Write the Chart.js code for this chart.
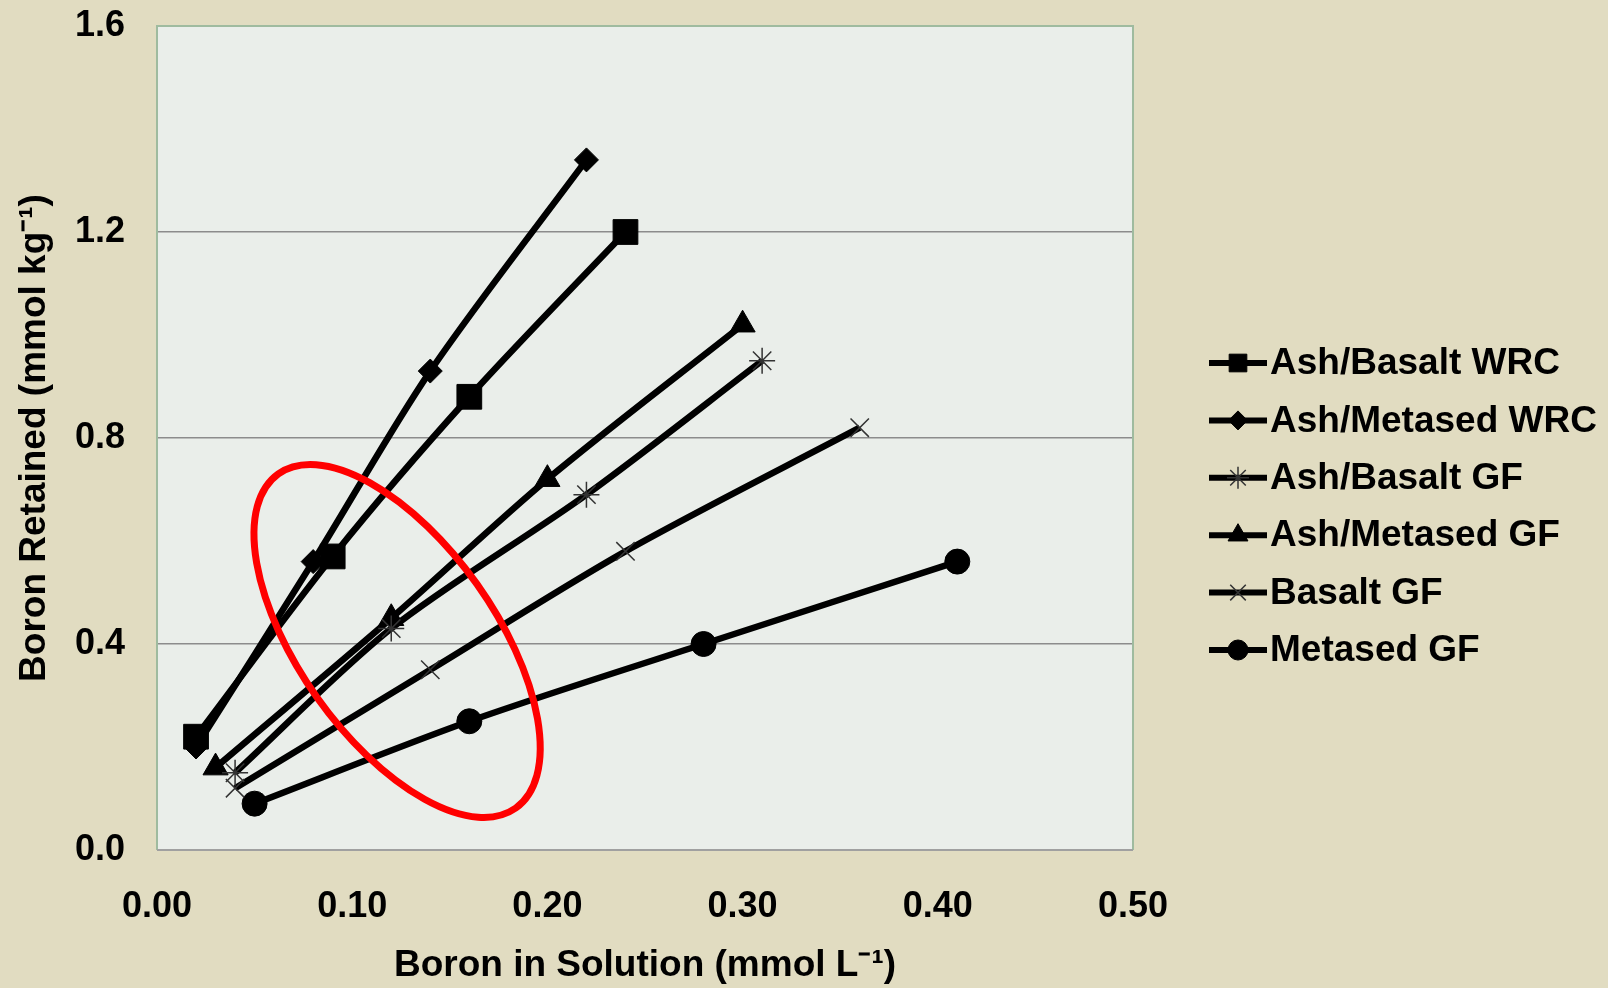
<!DOCTYPE html>
<html>
<head>
<meta charset="utf-8">
<title>Boron retained vs boron in solution</title>
<script src="https://cdn.jsdelivr.net/npm/chart.js@4.4.1/dist/chart.umd.min.js"></script>
<style>
  html, body { margin: 0; padding: 0; background: #e1dcc1; }
  #chart { display: block; }
</style>
</head>
<body>
<canvas id="chart" width="1608" height="988"></canvas>
<script>
/* values */
const seriesNames = ['Ash/Basalt WRC', 'Ash/Metased WRC', 'Ash/Basalt GF', 'Ash/Metased GF', 'Basalt GF', 'Metased GF'];

const ashBasaltWrcX = [0.02, 0.09, 0.16, 0.24];
const ashBasaltWrcY = [0.22, 0.57, 0.88, 1.20];
const ashMetasedWrcX = [0.02, 0.08, 0.14, 0.22];
const ashMetasedWrcY = [0.20, 0.56, 0.93, 1.34];
const ashBasaltGfX = [0.04, 0.12, 0.22, 0.31];
const ashBasaltGfY = [0.15, 0.43, 0.69, 0.95];
const ashMetasedGfX = [0.03, 0.12, 0.20, 0.30];
const ashMetasedGfY = [0.16, 0.45, 0.72, 1.02];
const basaltGfX = [0.04, 0.14, 0.24, 0.36];
const basaltGfY = [0.12, 0.35, 0.58, 0.82];
const metasedGfX = [0.05, 0.16, 0.28, 0.41];
const metasedGfY = [0.09, 0.25, 0.40, 0.56];

const xTickValues = [0, 0.1, 0.2, 0.3, 0.4, 0.5];
const xTickLabels = ['0.00', '0.10', '0.20', '0.30', '0.40', '0.50'];
const yTickValues = [0, 0.4, 0.8, 1.2, 1.6];
const yTickLabels = ['0.0', '0.4', '0.8', '1.2', '1.6'];

const seriesX = [ashBasaltWrcX, ashMetasedWrcX, ashBasaltGfX, ashMetasedGfX, basaltGfX, metasedGfX];
const seriesY = [ashBasaltWrcY, ashMetasedWrcY, ashBasaltGfY, ashMetasedGfY, basaltGfY, metasedGfY];

// marker look per series (plot size, legend size)
const markers = [
  { style: 'rect', r: 17.5, lr: 12.5, thin: false },
  { style: 'rectRot', r: 12, lr: 9.5, thin: false },
  { style: 'star', r: 13, lr: 11, thin: true },
  { style: 'triangle', r: 14.5, lr: 11.5, thin: false },
  { style: 'crossRot', r: 13, lr: 11, thin: true },
  { style: 'circle', r: 12.5, lr: 10, thin: false },
];

const FONT = '"Liberation Sans", Arial, Helvetica, sans-serif';
const BG = '#e1dcc1';
const PLOT_BG = '#eaeeea';

// red highlight ring, centred in data units
const ring = { x: 0.123, y: 0.406, rx: 205, ry: 98, angle: 54.6 };

const pick = (arr, values, v) => {
  const i = values.findIndex(t => Math.abs(t - v) < 1e-9);
  return i >= 0 ? arr[i] : '';
};

const datasets = seriesNames.map((name, i) => ({
  label: name,
  data: seriesX[i].map((x, j) => ({ x, y: seriesY[i][j] })),
  showLine: true,
  borderColor: '#000',
  borderWidth: 6.5,
  tension: 0.3,
  pointStyle: markers[i].style,
  pointRadius: markers[i].r,
  pointHoverRadius: markers[i].r,
  pointBackgroundColor: '#000',
  pointBorderColor: markers[i].thin ? '#333' : '#000',
  pointBorderWidth: markers[i].thin ? 1.5 : 1,
}));

const framePlugin = {
  id: 'frame',
  beforeDraw(chart) {
    const { ctx, chartArea: a } = chart;
    ctx.save();
    ctx.fillStyle = BG;
    ctx.fillRect(0, 0, chart.width, chart.height);
    ctx.fillStyle = PLOT_BG;
    ctx.fillRect(a.left, a.top, a.right - a.left, a.bottom - a.top);
    ctx.restore();
  },
  beforeDatasetsDraw(chart) {
    const { ctx, chartArea: a } = chart;
    ctx.save();
    ctx.lineWidth = 2;
    ctx.strokeStyle = '#9fbb9f';
    ctx.beginPath();
    ctx.moveTo(a.left, a.bottom);
    ctx.lineTo(a.left, a.top);
    ctx.lineTo(a.right, a.top);
    ctx.lineTo(a.right, a.bottom);
    ctx.stroke();
    ctx.strokeStyle = '#a0a0a0';
    ctx.beginPath();
    ctx.moveTo(a.left, a.bottom);
    ctx.lineTo(a.right, a.bottom);
    ctx.stroke();
    ctx.restore();
  },
  afterDatasetsDraw(chart) {
    const { ctx, scales } = chart;
    ctx.save();
    ctx.strokeStyle = '#ff0000';
    ctx.lineWidth = 7;
    ctx.beginPath();
    ctx.ellipse(scales.x.getPixelForValue(ring.x), scales.y.getPixelForValue(ring.y),
      ring.rx, ring.ry, ring.angle * Math.PI / 180, 0, Math.PI * 2);
    ctx.stroke();
    ctx.restore();
  },
  afterDraw(chart) {
    const ctx = chart.ctx;
    const left = 1209, top = 363, gap = 57.4, sample = 58;
    ctx.save();
    ctx.font = 'bold 37px ' + FONT;
    ctx.textBaseline = 'middle';
    ctx.textAlign = 'left';
    seriesNames.forEach((name, i) => {
      const y = top + i * gap;
      ctx.strokeStyle = '#000';
      ctx.lineWidth = 6;
      ctx.beginPath();
      ctx.moveTo(left, y);
      ctx.lineTo(left + sample, y);
      ctx.stroke();
      ctx.fillStyle = '#000';
      ctx.strokeStyle = markers[i].thin ? '#333' : '#000';
      ctx.lineWidth = markers[i].thin ? 1.5 : 1;
      Chart.helpers.drawPoint(ctx, { pointStyle: markers[i].style, radius: markers[i].lr, rotation: 0, borderWidth: ctx.lineWidth }, left + sample / 2, y);
      ctx.fillStyle = '#000';
      ctx.fillText(name, left + sample + 3, y + 1);
    });
    ctx.restore();
  }
};

new Chart(document.getElementById('chart'), {
  type: 'scatter',
  data: { datasets },
  options: {
    responsive: false,
    animation: false,
    layout: { padding: { left: 13, top: 26, right: 475, bottom: 0 } },
    plugins: { legend: { display: false }, tooltip: { enabled: false } },
    scales: {
      x: {
        type: 'linear',
        min: 0, max: 0.5,
        afterBuildTicks: s => { s.ticks = xTickValues.map(v => ({ value: v })); },
        afterFit: s => { s.height = 138; s.paddingLeft = 0; s.paddingRight = 0; },
        grid: { display: false, drawTicks: false },
        border: { display: false },
        ticks: {
          padding: 35,
          color: '#000',
          font: { family: FONT, size: 36, weight: 'bold' },
          callback: v => pick(xTickLabels, xTickValues, v),
        },
        title: {
          display: true,
          text: 'Boron in Solution (mmol L⁻¹)',
          color: '#000',
          font: { family: FONT, size: 37, weight: 'bold' },
          padding: { top: 0, bottom: 0 },
        },
      },
      y: {
        type: 'linear',
        min: 0, max: 1.6,
        afterBuildTicks: s => { s.ticks = yTickValues.map(v => ({ value: v })); },
        afterFit: s => { s.width = 144; s.paddingTop = 0; s.paddingBottom = 0; },
        grid: {
          drawTicks: false,
          lineWidth: 1.5,
          color: c => (c.tick && (c.tick.value === 0 || c.tick.value === 1.6)) ? 'rgba(0,0,0,0)' : '#8c8c8c',
        },
        border: { display: false },
        ticks: {
          padding: 32,
          color: '#000',
          font: { family: FONT, size: 36, weight: 'bold' },
          callback: v => pick(yTickLabels, yTickValues, v),
        },
        title: {
          display: true,
          text: 'Boron Retained (mmol kg⁻¹)',
          color: '#000',
          font: { family: FONT, size: 37, weight: 'bold' },
          padding: { top: 0, bottom: 0 },
        },
      },
    },
  },
  plugins: [framePlugin],
});
</script>
</body>
</html>
